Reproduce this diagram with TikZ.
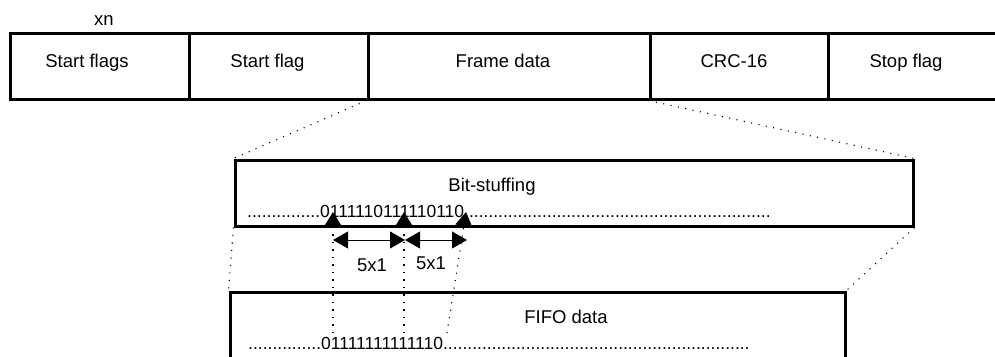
\documentclass[tikz,border=0pt]{standalone}
\usepackage{fontspec}
\setmainfont{Liberation Sans}
\usetikzlibrary{arrows.meta}
\tikzset{
  box/.style={draw, line width=3pt, minimum height=66pt, inner sep=0pt},
  lbl/.style={font=\fontsize{18.5}{22}\selectfont, inner sep=0pt, anchor=base},
  bits/.style={font=\fontsize{17.5}{21}\selectfont, inner sep=0pt, anchor=base west},
  guide/.style={line width=1.1pt, dash pattern=on 1.1pt off 6.4pt},
  ptr/.style={guide, -{Triangle[length=14pt,width=17pt]}},
  runarrow/.style={line width=0.8pt, {Triangle[length=15pt,width=17pt]}-{Triangle[length=15pt,width=17pt]}}
}
\begin{document}
\begin{tikzpicture}[x=1pt, y=-1pt]
    \useasboundingbox (0,0) rectangle (995,356);
    \foreach \nm/\cx/\w in {sflags/99.5/179, sflag/278.5/179, frame/509/282, crc/739/178, stop/919/182}
      \node[box, minimum width=\w pt] (\nm) at (\cx,66) {};
    \node[lbl] (xn) at (104,25) {xn};
    \foreach \nm/\tx/\txt in {sflags/87/Start flags, sflag/267.5/Start flag, frame/503/Frame data, crc/734/CRC-16, stop/906/Stop flag}
      \node[lbl] (\nm-t) at (\tx,67) {\txt};
    \node[box, minimum width=678pt] (stuff) at (574,193) {};
    \node[box, minimum width=615pt, minimum height=140pt] (fifo) at (537.5,362) {};
    \node[lbl] (stuff-t) at (492,191.5) {Bit-stuffing};
    \node[lbl] (fifo-t) at (566,323.5) {FIFO data};
    \node[bits] (stuff-b) at (247,217) {...............0111110111110110...............................................................};
    \node[bits] (fifo-b) at (248,349) {...............01111111111110...............................................................};
    \draw[guide] (frame.south west) -- (stuff.north west);
    \draw[guide] (crc.south west) -- (stuff.north east);
    \draw[guide] (stuff.south west) -- (fifo.north west);
    \draw[guide] (stuff.south east) -- (fifo.north east);
    \foreach \i/\xa/\xb in {1/333/333, 2/404/404, 3/447/466} {
      \coordinate (lo\i) at (\xa,333);
      \coordinate (hi\i) at (\xb,212);
      \draw[ptr] (lo\i) -- (hi\i);
    }
    \coordinate (m1) at (333,240);
    \coordinate (m2) at (405,240);
    \coordinate (m3) at (467,240);
    \draw[runarrow] (m1) -- (m2);
    \draw[runarrow] (m2) -- (m3);
    \node[lbl] (w1) at (372,271) {5x1};
    \node[lbl] (w2) at (431,269) {5x1};
\end{tikzpicture}
\end{document}
